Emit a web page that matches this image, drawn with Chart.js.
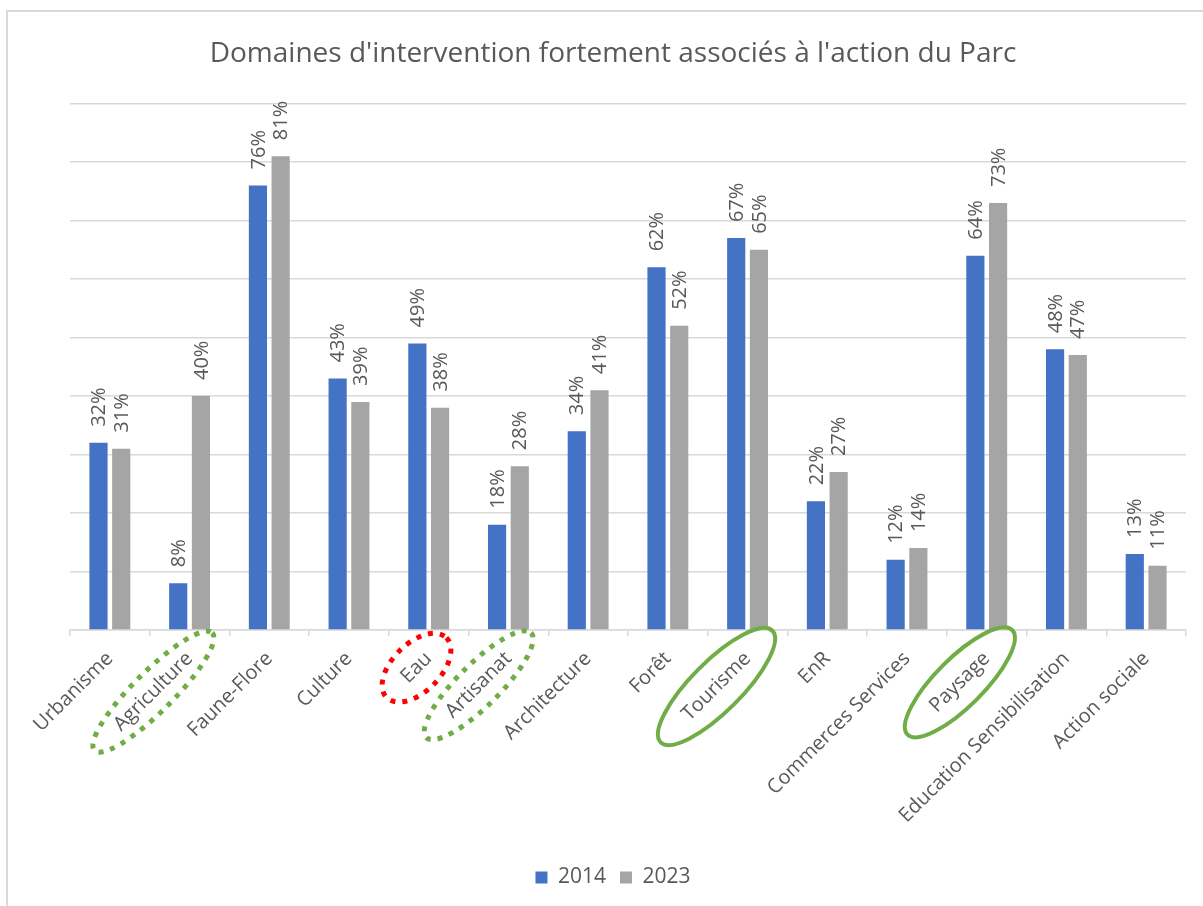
<!DOCTYPE html>
<html lang="fr">
<head>
  <meta charset="UTF-8">
  <title>Domaines d'intervention fortement associés à l'action du Parc</title>
  <script src="https://cdn.jsdelivr.net/npm/chart.js"></script>
  <style>
    body {
      margin: 0;
      background: #fff;
    }
    #wrap {
      position: relative;
      width: 1203px;
      height: 906px;
    }
    #frame {
      position: absolute;
      left: 6px;
      top: 10px;
      right: 0;
      bottom: 0;
      border-left: 2px solid #d9d9d9;
      border-top: 2px solid #d9d9d9;
      pointer-events: none;
    }
  </style>
</head>
<body>
  <div id="wrap">
    <canvas id="chart"></canvas>
    <div id="frame"></div>
  </div>

  <script>
    const categories = [
      "Urbanisme", "Agriculture", "Faune-Flore", "Culture", "Eau", "Artisanat",
      "Architecture", "Forêt", "Tourisme", "EnR", "Commerces Services",
      "Paysage", "Education Sensibilisation", "Action sociale"
    ];
    const values2014 = [32, 8, 76, 43, 49, 18, 34, 62, 67, 22, 12, 64, 48, 13];
    const values2023 = [31, 40, 81, 39, 38, 28, 41, 52, 65, 27, 14, 73, 47, 11];
    const seriesNames = ["2014", "2023"];
    const yMax = 90;
    const yStep = 10;

    // labels circled by hand on the original
    const highlights = [
      { label: "Agriculture", color: "#70AD47", dotted: true, extra: 32, minor: 20 },
      { label: "Eau", color: "#FF0000", dotted: true, extra: 25, minor: 24 },
      { label: "Artisanat", color: "#70AD47", dotted: true, extra: 32, minor: 21 },
      { label: "Tourisme", color: "#70AD47", dotted: false, extra: 35, minor: 25 },
      { label: "Paysage", color: "#70AD47", dotted: false, extra: 36, minor: 24 }
    ];

    const textColor = "#595959";
    const gridColor = "#d9d9d9";
    const fontFamily = '"Open Sans", "Noto Sans", sans-serif';
    const tickFontSize = 20;

    const barLabels = {
      id: "barLabels",
      afterDatasetsDraw(chart) {
        const ctx = chart.ctx;
        ctx.save();
        ctx.font = "20px " + fontFamily;
        ctx.fillStyle = textColor;
        ctx.textAlign = "left";
        ctx.textBaseline = "middle";
        chart.data.datasets.forEach((ds, di) => {
          chart.getDatasetMeta(di).data.forEach((bar, i) => {
            ctx.save();
            ctx.translate(bar.x + 1, bar.y - 16);
            ctx.rotate(-Math.PI / 2);
            ctx.fillText(ds.data[i] + "%", 0, 0);
            ctx.restore();
          });
        });
        ctx.restore();
      }
    };

    const circleLabels = {
      id: "circleLabels",
      afterDraw(chart) {
        const xs = chart.scales.x;
        const ctx = chart.ctx;
        const items = xs.getLabelItems ? xs.getLabelItems() : null;
        ctx.save();
        ctx.font = tickFontSize + "px " + fontFamily;
        highlights.forEach(h => {
          const i = categories.indexOf(h.label);
          const w = ctx.measureText(h.label).width;
          let tx = xs.getPixelForTick(i);
          let ty = xs.top + 16;
          let off = tickFontSize * 1.2 / 2;
          let r = -Math.PI / 4;
          const it = items && items[i];
          if (it && it.options && it.options.translation) {
            tx = it.options.translation[0];
            ty = it.options.translation[1];
            r = it.options.rotation;
            off = it.textOffset;
          }
          const cx = tx + (-w / 2) * Math.cos(r) - off * Math.sin(r);
          const cy = ty + (-w / 2) * Math.sin(r) + off * Math.cos(r);
          ctx.beginPath();
          ctx.ellipse(cx, cy, w / 2 + h.extra, h.minor, r, 0, Math.PI * 2);
          ctx.strokeStyle = h.color;
          if (h.dotted) {
            ctx.lineWidth = 5;
            ctx.setLineDash([5, 7]);
          } else {
            ctx.lineWidth = 4;
            ctx.setLineDash([]);
          }
          ctx.stroke();
        });
        ctx.restore();
      }
    };

    new Chart(document.getElementById("chart"), {
      type: "bar",
      data: {
        labels: categories,
        datasets: [
          {
            label: seriesNames[0],
            data: values2014,
            backgroundColor: "#4472C4",
            categoryPercentage: 0.57,
            barPercentage: 0.8
          },
          {
            label: seriesNames[1],
            data: values2023,
            backgroundColor: "#A5A5A5",
            categoryPercentage: 0.57,
            barPercentage: 0.8
          }
        ]
      },
      options: {
        responsive: true,
        maintainAspectRatio: false,
        animation: false,
        layout: {
          padding: { left: 40, right: 17, top: 0, bottom: 8 }
        },
        plugins: {
          title: {
            display: true,
            text: "Domaines d'intervention fortement associés à l'action du Parc",
            color: textColor,
            font: { family: fontFamily, size: 28, weight: "normal" },
            padding: { top: 37, bottom: 33 }
          },
          legend: {
            position: "bottom",
            labels: {
              color: textColor,
              font: { family: fontFamily, size: 21 },
              boxWidth: 12,
              boxHeight: 12,
              padding: 14
            }
          },
          tooltip: { enabled: false }
        },
        scales: {
          x: {
            grid: {
              drawOnChartArea: false,
              color: gridColor,
              lineWidth: 1.5,
              tickLength: 6
            },
            border: { color: gridColor, width: 1.5 },
            ticks: {
              color: textColor,
              font: { family: fontFamily, size: tickFontSize },
              minRotation: 45,
              maxRotation: 45,
              autoSkip: false,
              padding: 11
            },
            afterFit(scale) {
              scale.height = 223;
            }
          },
          y: {
            min: 0,
            max: yMax,
            ticks: { display: false, stepSize: yStep },
            grid: { color: gridColor, lineWidth: 1.5, drawTicks: false },
            border: { display: false },
            afterFit(scale) {
              scale.width = 30;
            }
          }
        }
      },
      plugins: [barLabels, circleLabels]
    });
  </script>
</body>
</html>
